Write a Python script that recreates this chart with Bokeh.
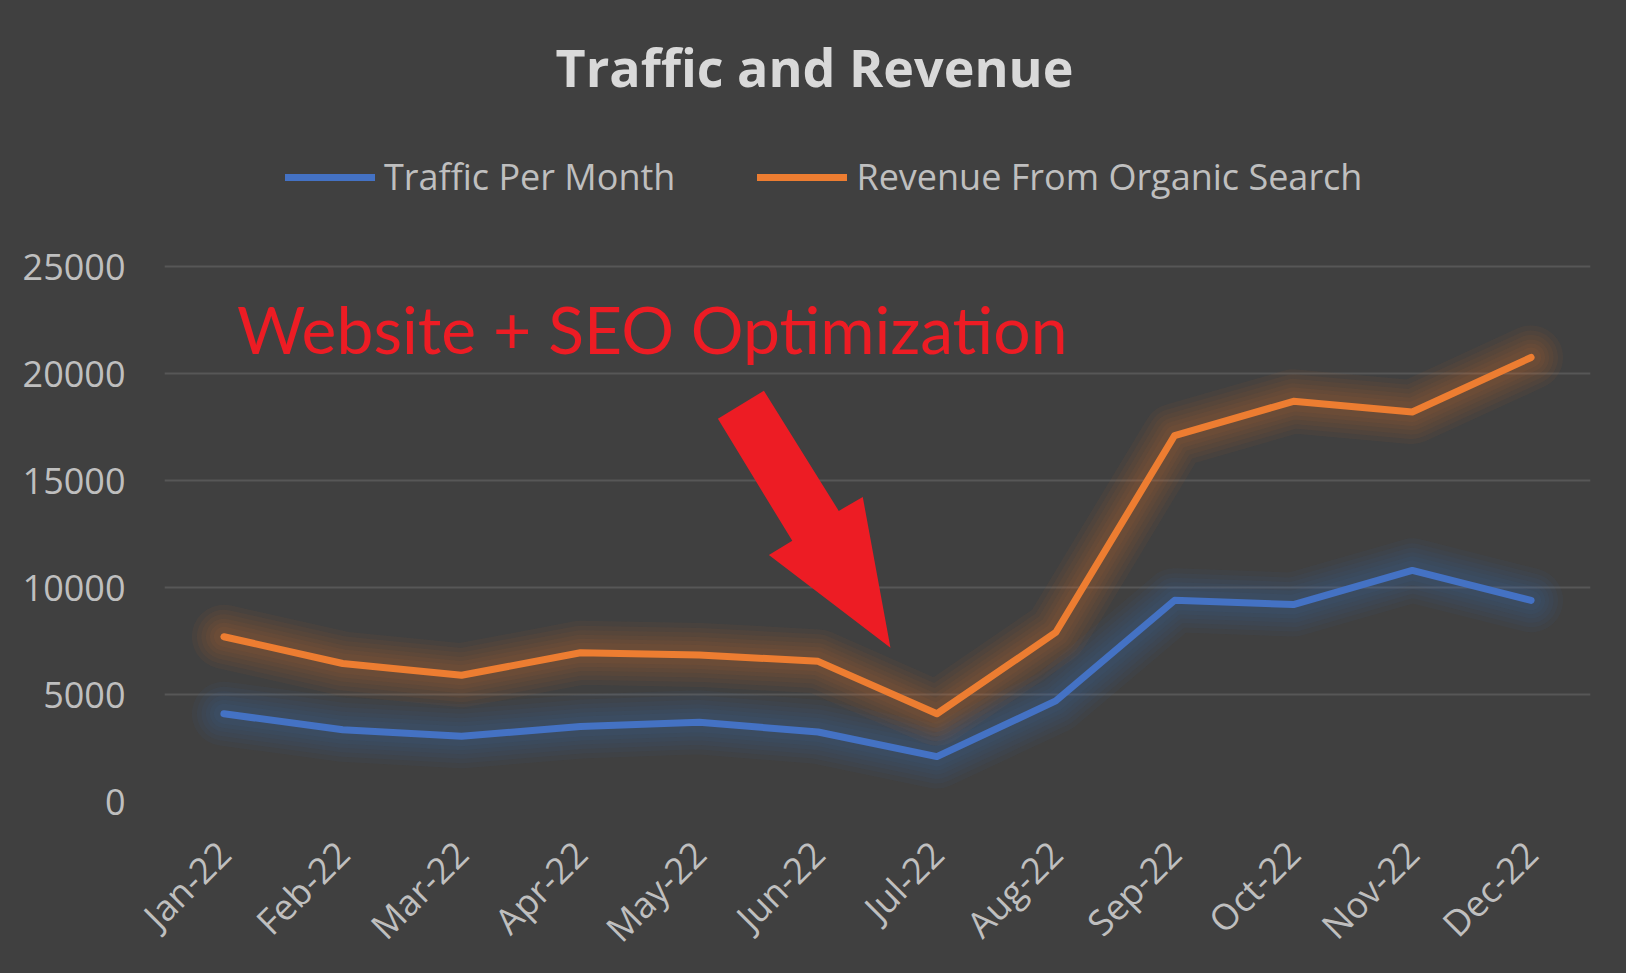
from bokeh.plotting import figure
from bokeh.models import (Range1d, FixedTicker, Label, Legend, LegendItem)
from bokeh.embed import file_html
from bokeh.resources import INLINE
from math import pi

months = ["Jan-22", "Feb-22", "Mar-22", "Apr-22", "May-22", "Jun-22",
          "Jul-22", "Aug-22", "Sep-22", "Oct-22", "Nov-22", "Dec-22"]
traffic = [4100, 3350, 3050, 3500, 3700, 3250, 2100, 4700, 9400, 9200, 10800, 9400]
revenue = [7700, 6450, 5900, 6950, 6850, 6550, 4100, 7900, 17100, 18700, 18200, 20750]
y_ticks = [0, 5000, 10000, 15000, 20000, 25000]

# block-arrow annotation outline (data coordinates)
arrow_x = [4.157, 4.544, 5.174, 5.376, 5.609, 4.586, 4.783]
arrow_y = [17880, 19190, 13580, 14230, 7190, 11520, 12180]

BG = "#404040"
TXT = "#bfbfbf"
BLUE = "#4472C4"
ORANGE = "#ED7D31"
RED = "#ED1C24"

xs = list(range(len(months)))

# frame spans to the top of the canvas so that title and legend live inside it;
# the 0..25000 value scale occupies the lower part of the frame
FRAME_H = 801
SCALE_H = 535
y_top = 25000 * FRAME_H / SCALE_H

p = figure(width=1626, height=973, output_backend="svg", toolbar_location=None,
           x_range=Range1d(-0.5, len(months) - 0.5), y_range=Range1d(0, y_top),
           min_border_left=164, min_border_right=36, min_border_top=0,
           min_border_bottom=172)
p.background_fill_color = None
p.border_fill_color = BG
p.outline_line_color = None
p.styles = {"background-color": BG}

# axes
p.xaxis.ticker = FixedTicker(ticks=xs)
p.xaxis.major_label_overrides = {i: m for i, m in enumerate(months)}
p.xaxis.major_label_orientation = pi / 4
p.yaxis.ticker = FixedTicker(ticks=y_ticks)
for ax in (p.xaxis[0], p.yaxis[0]):
    ax.axis_line_color = None
    ax.major_tick_line_color = None
    ax.minor_tick_line_color = None
    ax.major_label_text_color = TXT
    ax.major_label_text_font = "Open Sans"
    ax.major_label_text_font_size = "36px"
p.yaxis.major_label_standoff = 33
p.xaxis.major_label_standoff = 40

p.xgrid.grid_line_color = None
p.ygrid.ticker = FixedTicker(ticks=y_ticks[1:])
p.ygrid.grid_line_color = "#575757"
p.ygrid.grid_line_width = 2

# glow layers
for w in [64, 54, 45, 36, 28, 20]:
    p.line(xs, revenue, line_color=ORANGE, line_width=w, line_alpha=0.05,
           line_join="round", line_cap="round")
    p.line(xs, traffic, line_color=BLUE, line_width=w, line_alpha=0.05,
           line_join="round", line_cap="round")

r_rev = p.line(xs, revenue, line_color=ORANGE, line_width=7, line_join="round", line_cap="round")
r_tr = p.line(xs, traffic, line_color=BLUE, line_width=7, line_join="round", line_cap="round")

# arrow
p.patch(arrow_x, arrow_y, fill_color=RED, line_color=None)

# annotation text
p.add_layout(Label(x=0.11, y=22100, text="Website + SEO Optimization",
                   text_color=RED, text_font="Lato", text_font_size="66px",
                   text_baseline="alphabetic", text_align="left"))

# title
p.add_layout(Label(x=650, y=FRAME_H - 66, x_units="screen", y_units="screen",
                   text="Traffic and Revenue", text_color="#d9d9d9",
                   text_font="Open Sans", text_font_style="bold",
                   text_font_size="52px", text_align="center", text_baseline="middle"))

legend = Legend(items=[LegendItem(label="Traffic Per Month", renderers=[r_tr]),
                       LegendItem(label="Revenue From Organic Search", renderers=[r_rev])],
                orientation="horizontal", location=(121, FRAME_H - 181 - 20),
                background_fill_alpha=0, border_line_color=None,
                label_text_color=TXT, label_text_font="Open Sans",
                label_text_font_size="36px", glyph_width=90, glyph_height=40,
                label_height=40, label_standoff=9, spacing=82, padding=0, margin=0)
p.add_layout(legend, "center")

html = file_html(p, INLINE)
html = html.replace("<body>", '<body style="margin:0;background-color:#404040;">', 1)
open("out.html", "w").write(html)
